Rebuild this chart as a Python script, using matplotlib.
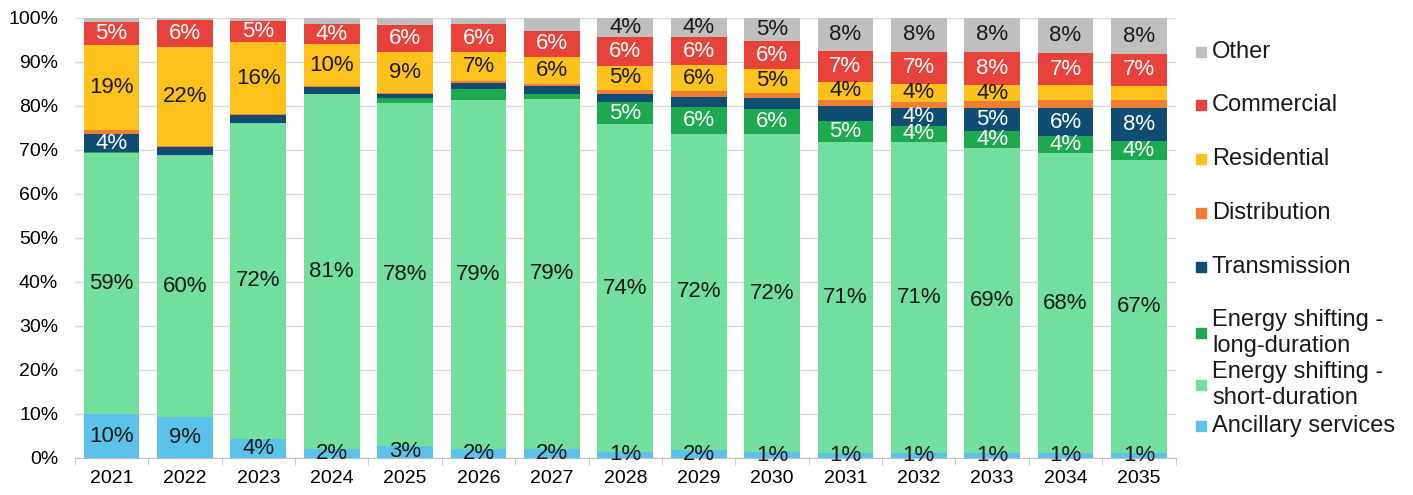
import numpy as np
import matplotlib
matplotlib.use('Agg')
import matplotlib.pyplot as plt
from matplotlib.patches import Rectangle

plt.rcParams['font.family'] = ['Liberation Sans', 'DejaVu Sans']

years = [str(y) for y in range(2021, 2036)]

# shares of storage capacity by application, % per year
ancillary   = [9.9, 9.2, 4.4, 2.0, 2.7, 2.0, 2.1, 1.4, 1.7, 1.3, 1.2, 1.1, 1.1, 1.0, 1.0]
short_dur   = [59.3, 59.7, 71.7, 80.7, 77.9, 79.3, 79.4, 74.4, 72.0, 72.3, 70.6, 70.6, 69.4, 68.2, 66.7]
long_dur    = [0.2, 0.0, 0.0, 0.0, 1.1, 2.5, 1.3, 5.0, 6.1, 5.6, 4.7, 3.8, 3.7, 4.0, 4.2]
transmission = [4.1, 1.7, 1.8, 1.5, 1.1, 1.3, 1.6, 2.0, 2.3, 2.5, 3.4, 4.1, 5.2, 6.2, 7.6]
distribution = [0.9, 0.3, 0.2, 0.2, 0.2, 0.5, 0.6, 0.9, 1.2, 1.3, 1.5, 1.3, 1.7, 1.9, 1.8]
residential = [19.4, 22.4, 16.3, 9.7, 9.2, 6.6, 6.1, 5.4, 5.9, 5.4, 4.0, 4.1, 3.6, 3.4, 3.3]
commercial  = [5.3, 6.2, 4.9, 4.4, 6.1, 6.4, 6.0, 6.5, 6.4, 6.3, 7.0, 7.2, 7.6, 7.2, 7.1]
other = [100 - sum(v) for v in zip(ancillary, short_dur, long_dur, transmission,
                                   distribution, residential, commercial)]

series = [
    ("Ancillary services", ancillary, "#5bc3ea", "#1a1a1a"),
    ("Energy shifting -\nshort-duration", short_dur, "#72df9e", "#1a1a1a"),
    ("Energy shifting -\nlong-duration", long_dur, "#1ea84f", "white"),
    ("Transmission", transmission, "#0f4d72", "white"),
    ("Distribution", distribution, "#ef7d33", "#1a1a1a"),
    ("Residential", residential, "#ffc21c", "#1a1a1a"),
    ("Commercial", commercial, "#e8433a", "white"),
    ("Other", other, "#bfbfbf", "#1a1a1a"),
]

fig = plt.figure(figsize=(14.13, 4.95), dpi=100)
ax = fig.add_axes([0.053, 0.075, 0.779, 0.889])

x = np.arange(len(years))
bottom = np.zeros(len(years))
for i, (name, vals, color, tcolor) in enumerate(series):
    vals = np.array(vals)
    ax.bar(x, vals, 0.76, bottom=bottom, color=color, zorder=2)
    for xi, b, v in zip(x, bottom, vals):
        if i == 0 or v >= 3.5:
            ax.text(xi, b + v / 2, f"{v:.0f}%", ha='center', va='center',
                    fontsize=16, color=tcolor, zorder=3)
    bottom += vals

ax.set_xlim(-0.5, len(years) - 0.5)
ax.set_ylim(0, 100)
ax.set_yticks(np.arange(0, 101, 10))
ax.set_yticklabels([f"{t}%" for t in range(0, 101, 10)], fontsize=14)
ax.set_xticks(x)
ax.set_xticklabels(years, fontsize=14)
ax.set_xticks(np.arange(-0.5, len(years), 1), minor=True)
ax.tick_params(axis='x', which='major', length=0, pad=9)
ax.tick_params(axis='x', which='minor', length=5, color='#bfbfbf')
ax.tick_params(axis='y', length=0, pad=12)
ax.grid(axis='y', color='#d9d9d9', linewidth=1, zorder=0)
for s in ['top', 'right', 'left']:
    ax.spines[s].set_visible(False)
ax.spines['bottom'].set_color('#bfbfbf')

# legend, listed top to bottom in reverse stacking order
legend_y = [426, 385, 333, 267, 213, 159, 105, 52]
for (name, vals, color, tcolor), py in zip(series, legend_y):
    fy = 1 - py / 495
    fig.patches.append(Rectangle((1196 / 1413, fy - 5 / 495), 10 / 1413, 10 / 495,
                                 transform=fig.transFigure, color=color))
    fig.text(1212 / 1413, fy, name, fontsize=17, va='center', ha='left',
             linespacing=1.2, color='#1a1a1a')

fig.savefig('out.png', dpi=100)
